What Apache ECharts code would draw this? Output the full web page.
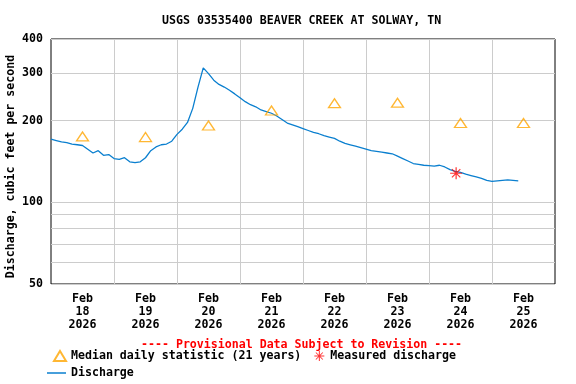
<!DOCTYPE html>
<html><head><meta charset="utf-8">
<script src="https://cdn.jsdelivr.net/npm/echarts@6/dist/echarts.min.js"></script>
<style>html,body{margin:0;padding:0;background:#fff}#c{width:576px;height:384px}</style>
</head><body><div id="c"></div>
<script>
const titleText = 'USGS 03535400 BEAVER CREEK AT SOLWAY, TN';
const yAxisName = 'Discharge, cubic feet per second';
const provisionalText = '---- Provisional Data Subject to Revision ----';
const xMin = '2026-02-18T00:00:00Z';
const xMax = '2026-02-26T00:00:00Z';
const dayLabelTimes = ['2026-02-18T12:00:00Z','2026-02-19T12:00:00Z','2026-02-20T12:00:00Z','2026-02-21T12:00:00Z','2026-02-22T12:00:00Z','2026-02-23T12:00:00Z','2026-02-24T12:00:00Z','2026-02-25T12:00:00Z'];
const dayGridTimes = ['2026-02-19T00:00:00Z','2026-02-20T00:00:00Z','2026-02-21T00:00:00Z','2026-02-22T00:00:00Z','2026-02-23T00:00:00Z','2026-02-24T00:00:00Z','2026-02-25T00:00:00Z'];
const yTickLabels = [50, 100, 200, 300, 400];
const yGridValues = [50, 60, 70, 80, 90, 100, 200, 300, 400];
const medianTimes = ['2026-02-18T12:00:00Z','2026-02-19T12:00:00Z','2026-02-20T12:00:00Z','2026-02-21T12:00:00Z','2026-02-22T12:00:00Z','2026-02-23T12:00:00Z','2026-02-24T12:00:00Z','2026-02-25T12:00:00Z'];
const medianValues = [175, 174, 192, 218, 232, 233, 196, 196];
const measuredTimes = ['2026-02-24T10:20:00Z'];
const measuredValues = [128];
const dischargeStart = '2026-02-18T00:00:00Z';
const dischargeStepHours = 2;
const dischargeValues = [171,169,167,166,164,163,162,157,152,155,149,150,145,144,146,141,140,141,146,155,160,163,164,168,178,186,197,222,266,313,298,282,272,266,259,251,243,235,229,225,219,216,213,208,202,196,193,190,187,184,181,179,176,174,172,168,165,163,161,159,157,155,154,153,152,151,148,145,142,139,138,137,136.5,136,137,135,132,130,129,127,125.5,124,122.5,120.5,119.5,120,120.5,121,120.5,120];

const FONT = 'DejaVu Sans Mono';
const txt = {fontFamily: FONT, fontWeight: 'bold', fontSize: 11.6, color: '#000'};
const t0 = Date.parse(dischargeStart);
const dischargeData = dischargeValues.map((v, i) => [t0 + i * dischargeStepHours * 3600000, v]);
const medianData = medianTimes.map((t, i) => [Date.parse(t), medianValues[i]]);
const measuredData = measuredTimes.map((t, i) => [Date.parse(t), measuredValues[i]]);
const starPath = 'path://M-6,-0.6L6,-0.6L6,0.6L-6,0.6Z M-0.6,-6L0.6,-6L0.6,6L-0.6,6Z M-4.6,-3.8L-3.8,-4.6L4.6,3.8L3.8,4.6Z M-3.8,4.6L-4.6,3.8L3.8,-4.6L4.6,-3.8Z';
const MONTHS = ['Jan','Feb','Mar','Apr','May','Jun','Jul','Aug','Sep','Oct','Nov','Dec'];

const chart = echarts.init(document.getElementById('c'), null, {renderer: 'canvas'});
chart.setOption({
  animation: false,
  backgroundColor: '#fff',
  title: [
    {text: titleText, left: 157, top: 9, textStyle: Object.assign({}, txt, {lineHeight: 13})},
    {text: provisionalText, left: 136, top: 333, textStyle: Object.assign({}, txt, {color: '#ff0000', lineHeight: 13})}
  ],
  grid: {left: 51, right: 21, top: 39, bottom: 100, outerBoundsMode: 'none', containLabel: false,
         show: true, borderColor: '#000', borderWidth: 1, backgroundColor: 'transparent'},
  xAxis: {
    type: 'value', min: Date.parse(xMin), max: Date.parse(xMax), scale: true,
    axisLine: {show: false},
    axisTick: {show: false, customValues: dayGridTimes.map(Date.parse)},
    splitLine: {show: true, lineStyle: {color: '#cccccc', width: 1}},
    axisLabel: {
      customValues: dayLabelTimes.map(Date.parse),
      margin: 8, lineHeight: 13, fontFamily: FONT, fontWeight: 'bold', fontSize: 11.6, color: '#000',
      formatter: function (v) { const d = new Date(v); return MONTHS[d.getUTCMonth()] + '\n' + d.getUTCDate() + '\n' + d.getUTCFullYear(); }
    }
  },
  yAxis: {
    type: 'log', logBase: 10, min: 50, max: 400,
    name: yAxisName, nameLocation: 'middle', nameGap: 34, nameRotate: 90, nameMoveOverlap: false,
    nameTextStyle: Object.assign({}, txt, {padding: [0, 10, 0, 0]}),
    axisLine: {show: false},
    axisTick: {show: false, customValues: yGridValues},
    splitLine: {show: true, lineStyle: {color: '#cccccc', width: 1}},
    axisLabel: {customValues: yTickLabels, margin: 8, fontFamily: FONT, fontWeight: 'bold', fontSize: 11.6, color: '#000'}
  },
  legend: [
    {left: 48, top: 345, itemWidth: 12, itemHeight: 10, itemGap: 13, selectedMode: false,
     textStyle: Object.assign({}, txt), data: ['Median daily statistic (21 years)', 'Measured discharge']},
    {left: 42, top: 362, itemWidth: 19, itemHeight: 1.5, selectedMode: false,
     textStyle: Object.assign({}, txt), data: [{name: 'Discharge', icon: 'rect'}]}
  ],
  series: [
    {name: 'Discharge', type: 'line', data: dischargeData, showSymbol: false, symbol: 'none',
     lineStyle: {color: '#0a7fcf', width: 1.3}, itemStyle: {color: '#0a7fcf'}, z: 2},
    {name: 'Median daily statistic (21 years)', type: 'scatter', data: medianData, symbol: 'triangle', symbolSize: [12, 9],
     itemStyle: {color: 'rgba(0,0,0,0)', borderColor: '#ffa500', borderWidth: 1.3}, z: 3},
    {name: 'Measured discharge', type: 'scatter', data: measuredData, symbol: starPath, symbolSize: 12,
     itemStyle: {color: '#ff0000'}, z: 4}
  ]
});
</script></body></html>
